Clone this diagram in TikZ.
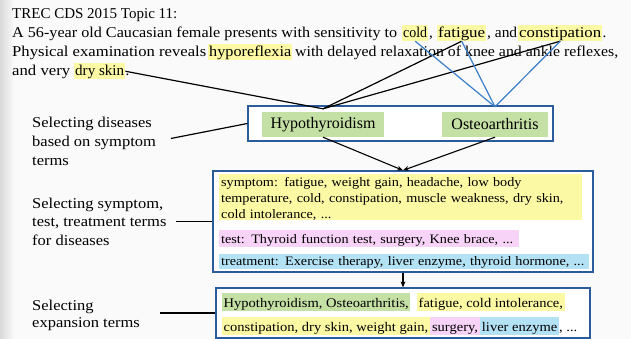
\documentclass[tikz,border=0pt]{standalone}
\usepackage{fontspec}
\usepackage{graphicx}
\setmainfont{Liberation Serif}[FakeStretch=1.1]
\newfontfamily\plainfont{Liberation Serif}
\usetikzlibrary{arrows.meta}
\definecolor{hlyellow}{HTML}{FCF9A5}
\definecolor{hlgreen}{HTML}{C5E0A5}
\definecolor{hlpink}{HTML}{F7D3F7}
\definecolor{hlblue}{HTML}{B4E2F5}
\definecolor{boxblue}{HTML}{2A5B9A}
\definecolor{lineblue}{HTML}{3A7FC8}
\definecolor{bgcol}{HTML}{FAFAFA}
\newcommand{\topsz}{\plainfont\fontsize{15}{19}\selectfont}
\newcommand{\midsz}{\fontsize{12.9}{16.3}\selectfont}
\newcommand{\finsz}{\fontsize{13.2}{17}\selectfont}
\newcommand{\fitw}[2]{\resizebox{#1pt}{\height}{#2}}
\tikzset{
  txt/.style={inner sep=0pt, anchor=base west, font=\topsz},
  hlword/.style={txt, fill=#1, inner xsep=1pt, text height=12.5pt, text depth=3pt},
  label/.style={inner sep=0pt, anchor=base west, align=left, font=\fontsize{15}{18.5}\selectfont},
  outerbox/.style={draw=boxblue, line width=1.3pt, fill=white, inner sep=0pt},
  disease/.style={fill=hlgreen, inner sep=0pt, minimum height=25pt, font=\plainfont\fontsize{16}{19}\selectfont},
  termblock/.style={anchor=base west, inner xsep=2pt, inner ysep=0pt, align=left, font=\midsz},
  finword/.style={anchor=base west, fill=#1, inner xsep=1.5pt, inner ysep=0pt, text height=14pt, text depth=3.5pt, font=\finsz},
  fintxt/.style={anchor=base west, inner sep=0pt, font=\finsz},
  blk/.style={black, line width=1.2pt},
  blu/.style={lineblue, line width=1.2pt},
  arr/.style={black, line width=1.1pt, -{Stealth[length=6pt,width=5pt]}},
  conn/.style={black, line width=1.2pt}
}
\begin{document}
\begin{tikzpicture}[x=1pt,y=-1pt]
\path[fill=bgcol] (0,0) rectangle (631,339);
\shade[left color=black!15, right color=bgcol] (0,0) rectangle (14,339);
\useasboundingbox (0,0) rectangle (631,339);

% top text
\node[txt] (l1) at (12,19) {TREC CDS 2015 Topic 11:};
\node[txt] (l2a) at (12,38) {\fitw{385}{A 56-year old Caucasian female presents with sensitivity to}};
\node[hlword=hlyellow] (cold) at (402,38) {\fitw{24}{cold}};
\node[txt] (l2b) at (429,38) {,};
\node[hlword=hlyellow] (fatigue) at (437,38) {\fitw{47}{fatigue}};
\node[txt] (l2c) at (487,38) {\fitw{30}{, and}};
\node[hlword=hlyellow] (constip) at (518,38) {\fitw{82}{constipation}};
\node[txt] (l2d) at (constip.base east) {.};
\node[txt] (l3a) at (12,57) {\fitw{194}{Physical examination reveals}};
\node[hlword=hlyellow] (hypo) at (208,57) {\fitw{82}{hyporeflexia}};
\node[txt] (l3b) at (295,57) {\fitw{323}{with delayed relaxation of knee and ankle reflexes,}};
\node[txt] (l4a) at (12,76) {\fitw{58}{and very}};
\node[hlword=hlyellow] (dry) at (74,76) {\fitw{49}{dry skin}};
\node[txt] (l4b) at (dry.base east) {.};

% left labels (anchored at the baseline of their last line)
\node[label] (lab1) at (32,165) {Selecting diseases\\based on symptom\\terms};
\node[label] (lab2) at (32,245) {Selecting symptom,\\test, treatment terms\\for diseases};
\node[label, font=\fontsize{15}{17}\selectfont] (lab3) at (32,327) {Selecting\\expansion terms};

% disease box
\node[outerbox, minimum width=305pt, minimum height=35pt] (dis) at (400.5,123.5) {};
\node[disease, minimum width=122pt] (hyt) at (323,124.5) {Hypothyroidism};
\node[disease, minimum width=106pt] (ost) at (495,124.5) {Osteoarthritis};
\coordinate (hjoin) at ([yshift=3pt]hyt.north);
\coordinate (ojoin) at ([yshift=5pt]ost.north);

% middle box
\node[outerbox, minimum width=380pt, minimum height=101pt] (mid) at (403,221.5) {};
\node[termblock, fill=hlyellow, text width=359pt, text height=12pt, text depth=34pt] (sym) at (219,186)
  {\mbox{symptom: fatigue, weight gain, headache, low body}\\\mbox{temperature, cold, constipation, muscle weakness, dry skin,}\\\mbox{cold intolerance, ...}};
\node[termblock, fill=hlpink, text width=296pt, text height=13pt, text depth=4pt] (tst) at (219,243)
  {\mbox{test: Thyroid function test, surgery, Knee brace, ...}};
\node[termblock, fill=hlblue, text width=366pt, text height=11pt, text depth=4pt] (trt) at (219,265)
  {\mbox{treatment: Exercise therapy, liver enzyme, thyroid hormone, ...}};

% final box
\node[outerbox, minimum width=374pt, minimum height=50pt] (fin) at (403,313) {};
\node[finword=hlgreen] (f1) at (222,307) {Hypothyroidism, Osteoarthritis,};
\node[finword=hlyellow] (f2) at (417,307) {fatigue, cold intolerance,};
\node[finword=hlyellow] (f3) at (222,331) {constipation, dry skin, weight gain,};
\node[finword=hlpink, inner xsep=2pt] (f4) at (f3.base east) {surgery,};
\node[finword=hlblue] (f5) at (f4.base east) {liver enzyme};
\node[fintxt] (f6) at (f5.base east) {, ...};

% connectors from text to diseases
\draw[blk] (dry.east) -- (hjoin);
\draw[blk] (fatigue.south) -- (hjoin);
\draw[blk] (constip.south) -- (hjoin);
\draw[blu] (cold.south) -- (ojoin);
\draw[blu] (fatigue.south) -- (ojoin);
\draw[blu] (constip.south) -- (ojoin);

% label connectors
\draw[conn, shorten <=15pt] (lab1.east) -- (dis.west);
\draw[conn, shorten <=9pt] (lab2.east |- mid.west) -- (mid.west);
\draw[conn, shorten <=20pt] (lab3.east |- fin.west) -- (fin.west);

% arrows
\draw[arr] (hyt.south) -- (mid.north);
\draw[arr] (ost.south) -- (mid.north);
\draw[arr] (mid.south) -- (fin.north);
\end{tikzpicture}
\end{document}
